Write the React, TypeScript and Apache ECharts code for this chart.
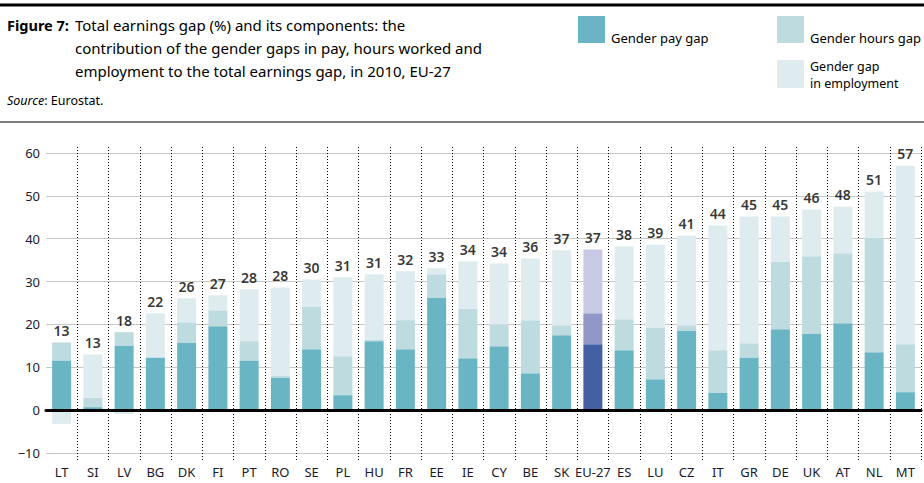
import React, { useEffect, useRef } from "react";
import * as echarts from "echarts";

const categories = ["LT","SI","LV","BG","DK","FI","PT","RO","SE","PL","HU","FR","EE","IE","CY","BE","SK","EU-27","ES","LU","CZ","IT","GR","DE","UK","AT","NL","MT"];
const payGap = [11.6,0.7,15.1,12.3,15.8,19.6,11.6,7.5,14.2,3.5,16.1,14.2,26.3,12.1,14.9,8.6,17.5,15.4,14.0,7.2,18.6,4.0,12.3,18.9,17.9,20.3,13.5,4.2];
const hoursGap = [4.2,2.2,3.1,0,4.7,3.7,4.5,0.6,10.0,9.1,0.4,6.8,5.4,11.6,5.1,12.4,2.3,7.2,7.2,12.1,1.2,10.0,3.3,15.8,18.0,16.3,26.8,11.2];
const employmentGap = [-3.2,10.1,-0.9,10.3,5.6,3.5,12.1,20.5,6.3,18.4,15.2,11.4,1.4,11.0,14.2,14.4,17.5,14.9,17.0,19.3,20.9,29.1,29.6,10.5,10.9,10.9,10.7,41.6];
const totalLabels = ["13","13","18","22","26","27","28","28","30","31","31","32","33","34","34","36","37","37","38","39","41","44","45","45","46","48","51","57"];
const yTicks = [-10, 0, 10, 20, 30, 40, 50, 60];

const seriesNames = ["Gender pay gap", "Gender hours gap", "Gender gap in employment"];
const legendLines = ["Gender pay gap", "Gender hours gap", "Gender gap", "in employment"];
const colors = ["#6ab5c4", "#bedbe0", "#deecf0"];
const euColors = ["#4460a5", "#9198c8", "#c8c9e5"];
const highlight = "EU-27";

const FONT = "'Noto Sans', 'Open Sans', sans-serif";

export default function App() {
  const ref = useRef<HTMLDivElement>(null);
  useEffect(() => {
    if (!ref.current) return;
    const chart = echarts.init(ref.current, undefined, { renderer: "svg" });
    const arrays = [payGap, hoursGap, employmentGap];
    const posTop = categories.map((_, i) =>
      arrays.reduce((s, a) => s + (a[i] > 0 ? a[i] : 0), 0)
    );
    const barSeries = arrays.map((arr, k) => ({
      name: seriesNames[k],
      type: "bar",
      stack: "total",
      xAxisIndex: 0,
      yAxisIndex: 0,
      barWidth: 19,
      itemStyle: { color: colors[k] },
      data: arr.map((v, i) =>
        categories[i] === highlight ? { value: v, itemStyle: { color: euColors[k] } } : v
      ),
    }));
    const n = categories.length;
    const option: any = {
      animation: false,
      textStyle: { fontFamily: FONT },
      grid: [
        { left: 46, right: 3, top: 153, bottom: 30 },
        { left: 46, right: 3, top: 147, bottom: 23 },
      ],
      xAxis: [
        {
          type: "category",
          gridIndex: 0,
          data: categories,
          axisLine: { show: true, onZero: true, lineStyle: { color: "#000", width: 3 } },
          axisTick: { show: false },
          axisLabel: { show: false },
          splitLine: { show: false },
          z: 5,
        },
        {
          type: "category",
          gridIndex: 1,
          data: categories,
          axisLine: { show: false },
          axisTick: { show: false },
          axisLabel: { show: true, interval: 0, margin: 5, color: "#1a1a2e", fontSize: 13, fontFamily: FONT },
          splitLine: {
            show: true,
            interval: (i: number) => i > 0 && i < n,
            lineStyle: { color: "#000", width: 1, type: [1, 2] },
          },
        },
      ],
      yAxis: [
        {
          type: "value",
          gridIndex: 0,
          min: yTicks[0],
          max: yTicks[yTicks.length - 1],
          interval: 10,
          axisLine: { show: false },
          axisTick: { show: false },
          axisLabel: {
            margin: 6,
            color: "#1a1a2e",
            fontSize: 13,
            fontFamily: FONT,
            formatter: (v: number) => String(v).replace("-", "\u2212"),
          },
          splitLine: { show: true, lineStyle: { color: "#c8c8c8", width: 1 } },
        },
        { type: "value", gridIndex: 1, min: 0, max: 1, show: false },
      ],
      series: [
        ...barSeries,
        {
          type: "scatter",
          xAxisIndex: 0,
          yAxisIndex: 0,
          symbolSize: 0,
          silent: true,
          data: posTop,
          label: {
            show: true,
            position: "top",
            distance: 5,
            formatter: (p: any) => totalLabels[p.dataIndex],
            color: "#000",
            fontSize: 14,
            fontWeight: 600,
            fontFamily: FONT,
          },
          z: 10,
        },
      ],
      graphic: [
        { type: "line", shape: { x1: 0, y1: 5, x2: 924, y2: 5 }, style: { stroke: "#000", lineWidth: 3 } },
        { type: "line", shape: { x1: 0, y1: 122, x2: 924, y2: 122 }, style: { stroke: "#000", lineWidth: 1.2 } },
        {
          type: "text", x: 7, y: 25,
          style: { text: "Figure 7:", fontSize: 14.5, fontWeight: "bold", fill: "#000", fontFamily: FONT, verticalAlign: "middle" },
        },
        {
          type: "text", x: 75, y: 25,
          style: { text: "Total earnings gap (%) and its components: the", fontSize: 15, fill: "#000", fontFamily: FONT, verticalAlign: "middle" },
        },
        {
          type: "text", x: 75, y: 48,
          style: { text: "contribution of the gender gaps in pay, hours worked and", fontSize: 15, fill: "#000", fontFamily: FONT, verticalAlign: "middle" },
        },
        {
          type: "text", x: 75, y: 71,
          style: { text: "employment to the total earnings gap, in 2010, EU-27", fontSize: 15, fill: "#000", fontFamily: FONT, verticalAlign: "middle" },
        },
        {
          type: "text", x: 7, y: 100,
          style: {
            text: "{i|Source}: Eurostat.",
            rich: { i: { fontStyle: "italic", fontSize: 12.5, fontFamily: FONT, fill: "#000" } },
            fontSize: 12.5, fill: "#000", fontFamily: FONT, verticalAlign: "middle",
          },
        },
        { type: "rect", shape: { x: 578, y: 16, width: 27, height: 27 }, style: { fill: colors[0] } },
        { type: "text", x: 611, y: 38, style: { text: legendLines[0], fontSize: 13, fill: "#000", fontFamily: FONT, verticalAlign: "middle" } },
        { type: "rect", shape: { x: 777, y: 16, width: 27, height: 27 }, style: { fill: colors[1] } },
        { type: "text", x: 810, y: 38, style: { text: legendLines[1], fontSize: 13, fill: "#000", fontFamily: FONT, verticalAlign: "middle" } },
        { type: "rect", shape: { x: 777, y: 60, width: 27, height: 28 }, style: { fill: colors[2] } },
        { type: "text", x: 810, y: 66, style: { text: legendLines[2], fontSize: 12.5, fill: "#000", fontFamily: FONT, verticalAlign: "middle" } },
        { type: "text", x: 810, y: 83, style: { text: legendLines[3], fontSize: 12.5, fill: "#000", fontFamily: FONT, verticalAlign: "middle" } },
      ],
    };
    chart.setOption(option);
    return () => chart.dispose();
  }, []);
  return <div ref={ref} style={{ position: "absolute", left: 0, top: 0, width: 924, height: 483 }} />;
}
